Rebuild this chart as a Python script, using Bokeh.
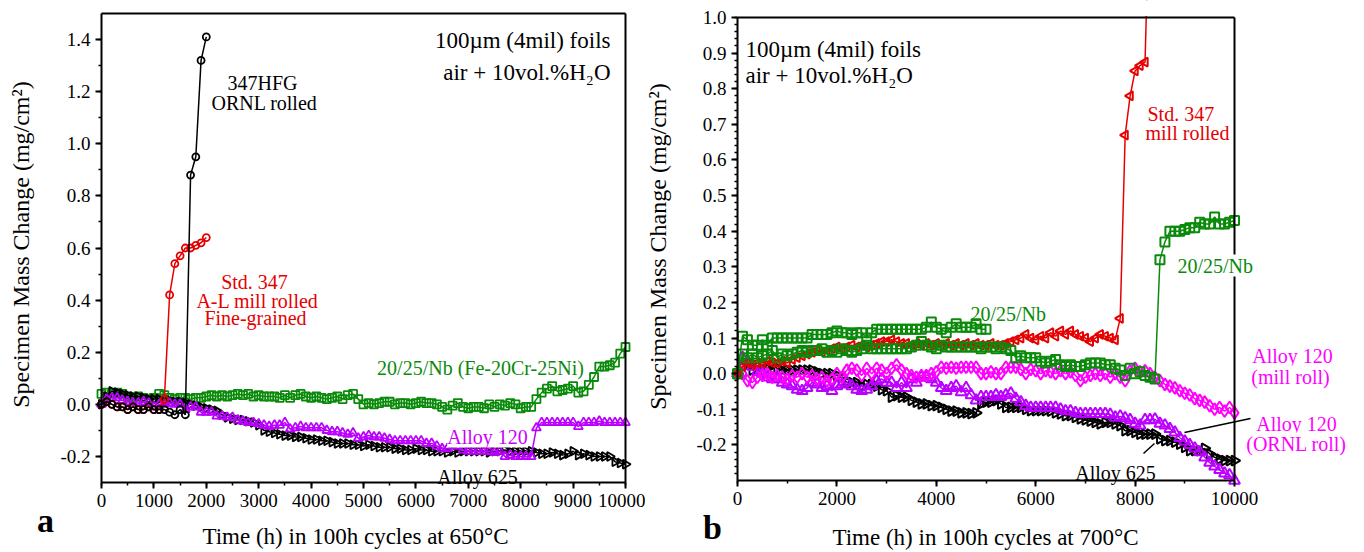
import math
from bokeh.plotting import figure
from bokeh.layouts import row
from bokeh.models import (Range1d, SingleIntervalTicker, NumeralTickFormatter, Label, Arrow,
                          LinearAxis, FixedTicker)
from bokeh.embed import file_html
from bokeh.resources import INLINE

FONT = "Liberation Serif"

# ---------------- data: panel a (650 C) ----------------
time_a = list(range(0, 10001, 100))
time_a_short = list(range(0, 2001, 100))

green_a = [0.04, 0.045, 0.04, 0.045, 0.04, 0.03, 0.025, 0.03, 0.025, 0.02,
           0.025, 0.04, 0.035, 0.025, 0.02, 0.025, 0.025, 0.02, 0.025, 0.025,
           0.03, 0.035, 0.03, 0.035, 0.03, 0.035, 0.04, 0.035, 0.04, 0.03,
           0.035, 0.03, 0.03, 0.03, 0.025, 0.035, 0.025, 0.035, 0.04, 0.03,
           0.025, 0.03, 0.025, 0.02, 0.025, 0.03, 0.02, 0.035, 0.04, 0.02,
           0.0, 0.005, 0.0, 0.005, 0.01, 0.01, 0.0, 0.005, 0.005, 0.0,
           0.005, 0.01, 0.005, 0.005, 0.0, -0.01, -0.02, -0.005, 0.005, -0.01,
           -0.015, -0.01, -0.01, -0.015, 0.0, -0.01, 0.0, -0.005, 0.005, 0.0,
           -0.015, -0.01, -0.01, 0.02, 0.045, 0.06, 0.07, 0.05, 0.055, 0.06,
           0.07, 0.045, 0.05, 0.075, 0.105, 0.145, 0.145, 0.15, 0.16, 0.195,
           0.22]
alloy120_a = [0.0, 0.02, 0.025, 0.025, 0.015, 0.01, 0.005, 0.005, 0.01, 0.005,
              -0.01, 0.0, 0.0, 0.005, 0.0, 0.0, -0.02, -0.01, -0.01, -0.03,
              -0.03, -0.03, -0.045, -0.045, -0.05, -0.05, -0.06, -0.065, -0.07, -0.07,
              -0.075, -0.08, -0.085, -0.08, -0.08, -0.07, -0.095, -0.09, -0.085, -0.09,
              -0.09, -0.09, -0.09, -0.1, -0.105, -0.105, -0.11, -0.115, -0.11, -0.13,
              -0.125, -0.12, -0.125, -0.125, -0.13, -0.135, -0.14, -0.14, -0.14, -0.14,
              -0.14, -0.14, -0.15, -0.15, -0.16, -0.17, -0.17, -0.16, -0.16, -0.175,
              -0.18, -0.18, -0.18, -0.18, -0.18, -0.185, -0.18, -0.2, -0.195, -0.2,
              -0.2, -0.2, -0.2, -0.09, -0.07, -0.07, -0.07, -0.07, -0.07, -0.07,
              -0.07, -0.085, -0.07, -0.07, -0.07, -0.065, -0.07, -0.07, -0.07, -0.07,
              -0.07]
alloy625_a = [0.0, 0.03, 0.05, 0.045, 0.04, 0.035, 0.03, 0.03, 0.025, 0.02,
              0.02, 0.02, 0.015, 0.015, 0.01, 0.01, 0.005, 0.0, -0.005, -0.01,
              -0.015, -0.02, -0.025, -0.04, -0.05, -0.055, -0.06, -0.06, -0.065, -0.07,
              -0.08, -0.1, -0.105, -0.11, -0.115, -0.12, -0.12, -0.125, -0.125, -0.13,
              -0.135, -0.135, -0.14, -0.14, -0.145, -0.15, -0.15, -0.15, -0.155, -0.155,
              -0.16, -0.155, -0.16, -0.165, -0.165, -0.165, -0.17, -0.17, -0.175, -0.175,
              -0.17, -0.175, -0.175, -0.18, -0.18, -0.18, -0.185, -0.18, -0.185, -0.18,
              -0.18, -0.18, -0.18, -0.18, -0.185, -0.18, -0.18, -0.175, -0.18, -0.18,
              -0.18, -0.18, -0.18, -0.185, -0.19, -0.19, -0.185, -0.19, -0.195, -0.19,
              -0.18, -0.195, -0.19, -0.195, -0.2, -0.2, -0.2, -0.2, -0.22, -0.225,
              -0.23]
std347_a = [0.0, 0.01, 0.0, -0.01, -0.01, -0.02, -0.01, -0.02, -0.02, -0.01,
            -0.02, -0.02, 0.02, 0.42, 0.54, 0.57, 0.6, 0.6, 0.61, 0.62, 0.64]
hfg347_a = [0.0, 0.01, 0.0, -0.01, -0.01, -0.02, -0.01, -0.02, -0.02, -0.01,
            -0.02, -0.02, -0.02, -0.03, -0.04, -0.02, -0.04, 0.88, 0.95, 1.32, 1.41]

# ---------------- data: panel b (700 C) ----------------
time_b = list(range(0, 10001, 100))
time_b_red = list(range(0, 8301, 100))
time_b_up = list(range(0, 5001, 100))

std347_b = [0.0, 0.02, 0.03, 0.025, 0.03, 0.03, 0.035, 0.03, 0.03, 0.035,
            0.03, 0.04, 0.045, 0.05, 0.055, 0.06, 0.065, 0.06, 0.065, 0.07,
            0.075, 0.07, 0.075, 0.08, 0.075, 0.08, 0.075, 0.08, 0.085, 0.09,
            0.09, 0.095, 0.09, 0.085, 0.085, 0.08, 0.085, 0.08, 0.085, 0.08,
            0.085, 0.08, 0.085, 0.08, 0.085, 0.08, 0.085, 0.08, 0.085, 0.08,
            0.08, 0.085, 0.08, 0.08, 0.085, 0.09, 0.095, 0.1, 0.11, 0.1,
            0.095, 0.105, 0.1, 0.115, 0.105, 0.12, 0.11, 0.12, 0.11, 0.105,
            0.1, 0.09, 0.1, 0.11, 0.105, 0.1, 0.095, 0.155, 0.67, 0.78,
            0.85, 0.865, 0.875, 1.4]
nb_lower_b = [0.0, 0.055, 0.045, 0.055, 0.045, 0.05, 0.055, 0.065, 0.045, 0.055,
              0.05, 0.055, 0.06, 0.065, 0.06, 0.065, 0.065, 0.07, 0.06, 0.065,
              0.06, 0.07, 0.065, 0.06, 0.065, 0.07, 0.08, 0.07, 0.07, 0.07,
              0.07, 0.07, 0.07, 0.07, 0.07, 0.075, 0.08, 0.09, 0.08, 0.075,
              0.07, 0.08, 0.075, 0.075, 0.075, 0.075, 0.075, 0.075, 0.075, 0.07,
              0.075, 0.075, 0.07, 0.075, 0.07, 0.065, 0.045, 0.05, 0.045, 0.045,
              0.045, 0.035, 0.03, 0.035, 0.04, 0.025, 0.02, 0.025, 0.02, 0.02,
              0.025, 0.03, 0.03, 0.03, 0.025, 0.025, 0.015, 0.01, -0.005, 0.015,
              0.0, 0.005, -0.005, -0.01, -0.015, 0.32, 0.37, 0.40, 0.40, 0.40,
              0.405, 0.41, 0.41, 0.425, 0.42, 0.42, 0.44, 0.42, 0.42, 0.425,
              0.43]
nb_upper_b = [0.0, 0.105, 0.095, 0.08, 0.08, 0.095, 0.08, 0.1, 0.1, 0.1,
              0.1, 0.1, 0.1, 0.1, 0.1, 0.11, 0.11, 0.11, 0.11, 0.115,
              0.12, 0.115, 0.115, 0.11, 0.115, 0.115, 0.1, 0.115, 0.125, 0.125,
              0.125, 0.125, 0.125, 0.125, 0.125, 0.125, 0.125, 0.125, 0.13, 0.145,
              0.13, 0.125, 0.115, 0.13, 0.14, 0.13, 0.13, 0.13, 0.14, 0.125,
              0.125]
alloy120_mill_b = [0.0, 0.0, -0.02, -0.025, -0.01, -0.005, 0.0, -0.01, -0.005, -0.01,
                   -0.015, -0.005, -0.01, 0.0, -0.01, -0.005, -0.015, -0.01, -0.02, -0.015,
                   0.0, -0.01, 0.01, 0.015, 0.01, -0.005, 0.015, 0.0, 0.015, 0.01,
                   0.0, 0.015, 0.025, 0.01, 0.0, -0.005, -0.01, -0.005, -0.005, 0.0,
                   0.005, 0.018, 0.015, 0.018, 0.015, 0.018, 0.018, 0.018, 0.018, 0.0,
                   0.0, 0.005, 0.0, 0.0, 0.018, 0.018, 0.018, 0.012, 0.0, 0.012,
                   0.008, 0.0, 0.008, 0.005, 0.0, 0.008, 0.0, 0.005, -0.005, -0.02,
                   -0.01, -0.005, 0.0, -0.005, 0.0, -0.01, 0.0, -0.01, -0.02, 0.008,
                   0.015, 0.005, 0.008, 0.0, -0.01, -0.02, -0.03, -0.035, -0.04, -0.048,
                   -0.055, -0.06, -0.07, -0.075, -0.08, -0.09, -0.1, -0.095, -0.105, -0.095,
                   -0.11]
alloy120_ornl_b = [0.0, 0.045, 0.035, 0.02, 0.005, 0.0, -0.01, -0.015, -0.015, -0.025,
                   -0.03, -0.035, -0.045, -0.048, -0.04, -0.025, -0.03, -0.04, -0.035, -0.048,
                   -0.035, -0.03, -0.025, -0.035, -0.045, -0.048, -0.045, -0.035, -0.02, -0.015,
                   -0.025, -0.025, -0.04, -0.025, -0.04, -0.015, -0.025, -0.01, -0.01, -0.015,
                   -0.025, -0.04, -0.048, -0.04, -0.035, -0.052, -0.04, -0.06, -0.075, -0.065,
                   -0.065, -0.065, -0.06, -0.065, -0.06, -0.055, -0.07, -0.08, -0.09, -0.095,
                   -0.095, -0.095, -0.095, -0.095, -0.095, -0.1, -0.105, -0.105, -0.11, -0.113,
                   -0.113, -0.113, -0.113, -0.113, -0.113, -0.115, -0.123, -0.12, -0.125, -0.13,
                   -0.14, -0.145, -0.13, -0.13, -0.128, -0.14, -0.145, -0.155, -0.165, -0.18,
                   -0.19, -0.2, -0.21, -0.22, -0.235, -0.25, -0.26, -0.27, -0.28, -0.285,
                   -0.30]
alloy625_b = [0.0, 0.02, 0.025, 0.01, 0.01, 0.025, 0.015, 0.025, 0.015, 0.01,
              0.01, 0.01, 0.01, 0.01, 0.01, 0.01, 0.005, 0.0, 0.0, 0.0,
              -0.005, -0.01, -0.024, -0.025, -0.025, -0.035, -0.03, -0.03, -0.035, -0.045,
              -0.048, -0.066, -0.062, -0.066, -0.066, -0.075, -0.08, -0.085, -0.085, -0.09,
              -0.09, -0.095, -0.1, -0.105, -0.105, -0.11, -0.11, -0.112, -0.11, -0.085,
              -0.08, -0.08, -0.076, -0.085, -0.095, -0.095, -0.095, -0.095, -0.1, -0.104,
              -0.104, -0.104, -0.104, -0.105, -0.11, -0.113, -0.118, -0.118, -0.123, -0.127,
              -0.13, -0.133, -0.137, -0.141, -0.137, -0.137, -0.141, -0.146, -0.16, -0.16,
              -0.165, -0.17, -0.17, -0.17, -0.17, -0.183, -0.188, -0.188, -0.192, -0.198,
              -0.207, -0.216, -0.216, -0.216, -0.21, -0.225, -0.235, -0.24, -0.244, -0.244,
              -0.244]

RED = "#e60000"
GREEN = "#0a8a0a"
PURPLE = "#bb00ff"
PURPLE_TXT = "#cc00ff"
MAGENTA = "#ff00ff"
BLACK = "#000000"

Y_TITLE = "Specimen Mass Change (mg/cm²)"


class Panel:
    """Figure whose frame fills its whole canvas; the visible axes sit at fixed
    data locations so that text can be placed all around the data area."""

    def __init__(self, width, left_px, right_px, top_px, bottom_px, x1, y0, y1,
                 xint, yint, yminor):
        # left_px/right_px: canvas x of data 0 and x1; top_px/bottom_px: canvas y of y1 and y0
        sx = (right_px - left_px) / x1
        sy = (bottom_px - top_px) / (y1 - y0)
        self.sx, self.sy, self.left_px, self.top_px, self.y1 = sx, sy, left_px, top_px, y1
        self.x1 = x1
        self.y_canvas_top = y1 + top_px / sy
        xr = Range1d(-left_px / sx, x1 + (width - right_px) / sx)
        yr = Range1d(y1 - (552 - top_px) / sy, self.y_canvas_top)
        p = figure(width=width, height=552, x_range=xr, y_range=yr,
                   x_axis_location=None, y_axis_location=None,
                   output_backend="svg", toolbar_location=None,
                   min_border_left=0, min_border_right=0, min_border_top=0,
                   min_border_bottom=0)
        p.outline_line_color = None
        p.background_fill_color = "white"
        p.border_fill_color = "white"
        p.grid.visible = False
        self.p = p

        xaxis = LinearAxis(fixed_location=y0, bounds=(0, x1),
                           ticker=SingleIntervalTicker(interval=xint, num_minor_ticks=2))
        yaxis = LinearAxis(fixed_location=0, bounds=(y0, y1),
                           ticker=SingleIntervalTicker(interval=yint, num_minor_ticks=yminor),
                           formatter=NumeralTickFormatter(format="0.0"))
        for ax in (xaxis, yaxis):
            ax.axis_line_width = 2
            ax.major_tick_line_width = 2
            ax.minor_tick_line_width = 1.5
            ax.major_tick_out = 6
            ax.major_tick_in = 0
            ax.minor_tick_out = 3
            ax.minor_tick_in = 0
            ax.major_label_text_font = FONT
            ax.major_label_text_font_size = "19px"
            ax.major_label_text_color = "black"
            ax.major_label_standoff = 5
        self.axes = [xaxis, yaxis,
                     LinearAxis(fixed_location=y1, bounds=(0, x1), ticker=FixedTicker(ticks=[]),
                                axis_line_width=2),
                     LinearAxis(fixed_location=x1, bounds=(y0, y1), ticker=FixedTicker(ticks=[]),
                                axis_line_width=2)]

    def finish(self):
        # white strip above the data area: acts as the clipping edge of the plot box,
        # so a curve leaving the top of the scale is cut there (limits come from the ranges)
        self.p.quad(left=[0], right=[self.x1], bottom=[self.y1 + 1.5 / self.sy],
                    top=[self.y_canvas_top + 1.0], fill_color="white", fill_alpha=1.0,
                    line_color=None)
        xaxis, yaxis, top, right = self.axes
        self.p.add_layout(xaxis, "below")
        self.p.add_layout(yaxis, "left")
        self.p.add_layout(top, "above")
        self.p.add_layout(right, "right")

    def dx(self, px):
        return (px - self.left_px) / self.sx

    def dy(self, py):
        return self.y1 - (py - self.top_px) / self.sy

    def series(self, x, y, marker, color, size, angle=0.0, lw=2.0):
        self.p.line(x, y, line_color=color, line_width=1.5)
        self.p.scatter(x, y, marker=marker, size=size, angle=angle, line_color=color,
                       fill_color=None, line_width=lw)

    def text(self, px, py, text, color="black", size="20px", align="center",
             baseline="alphabetic", style="normal", bg=None, angle=0.0):
        lab = Label(x=self.dx(px), y=self.dy(py), text=text, text_font=FONT,
                    text_font_size=size, text_color=color, text_align=align,
                    text_baseline=baseline, text_font_style=style, angle=angle)
        if bg:
            lab.background_fill_color = bg
        self.p.add_layout(lab)

    def leader(self, px0, py0, px1, py1):
        self.p.add_layout(Arrow(end=None, x_start=self.dx(px0), y_start=self.dy(py0),
                                x_end=self.dx(px1), y_end=self.dy(py1),
                                line_color="black", line_width=1.5))


# ---------------- panel a ----------------
A = Panel(645, 101, 625, 13, 482, 10000, -0.3, 1.5, 1000, 0.2, 2)
A.series(time_a, green_a, "square", GREEN, 8, lw=1.8)
A.series(time_a, alloy625_a, "triangle", BLACK, 9, -math.pi / 2, lw=1.8)
A.series(time_a, alloy120_a, "triangle", PURPLE, 9, lw=1.8)
A.series(time_a_short, std347_a, "circle", RED, 7, lw=1.8)
A.series(time_a_short, hfg347_a, "circle", BLACK, 7, lw=1.8)

A.text(610, 40, "100µm (4mil) foils", size="23px", align="right")
A.text(610, 72, "air + 10vol.%H₂O", size="23px", align="right")
A.text(262, 82, "347HFG")
A.text(264, 102, "ORNL rolled")
A.text(254, 281, "Std. 347", RED)
A.text(257, 300, "A-L mill rolled", RED)
A.text(255, 317, "Fine-grained", RED)
A.text(480, 367, "20/25/Nb (Fe-20Cr-25Ni)", GREEN)
A.text(487, 436, "Alloy 120", PURPLE_TXT, bg="white")
A.text(477, 476, "Alloy 625")
A.text(355, 536, "Time (h) in 100h cycles at 650°C", size="23px")
A.text(20, 244, Y_TITLE, size="24px", baseline="middle", angle=math.pi / 2)
A.text(45, 520, "a", size="34px", style="bold")
A.finish()

# ---------------- panel b ----------------
B = Panel(719, 92, 589, 17, 480, 10000, -0.3, 1.0, 2000, 0.1, 5)
B.series(time_b, alloy625_b, "triangle", BLACK, 10, -math.pi / 2)
B.series(time_b, alloy120_ornl_b, "triangle", PURPLE, 11)
B.series(time_b, alloy120_mill_b, "diamond", MAGENTA, 12)
B.series(time_b_red, std347_b, "triangle", RED, 9, math.pi / 2)
B.series(time_b, nb_lower_b, "square", GREEN, 9)
B.series(time_b_up, nb_upper_b, "square", GREEN, 9)

# canvas x of panel b = page x - 645
B.text(100, 49, "100µm (4mil) foils", size="23px", align="left")
B.text(100, 75, "air + 10vol.%H₂O", size="23px", align="left")
B.text(502, 113, "Std. 347", RED, align="left")
B.text(500, 132, "mill rolled", RED, align="left")
B.text(532, 265, "20/25/Nb", GREEN, align="left", bg="white")
B.text(325, 313, "20/25/Nb", GREEN, align="left")
B.text(647, 355, "Alloy 120", MAGENTA, bg="white")
B.text(645, 376, "(mill roll)", MAGENTA, bg="white")
B.text(651, 423, "Alloy 120", MAGENTA, bg="white")
B.text(651, 443, "(ORNL roll)", MAGENTA, bg="white")
B.text(470, 472, "Alloy 625")
B.leader(539, 432, 605, 418)
B.leader(498, 453, 509, 443)
B.text(340, 537, "Time (h) in 100h cycles at 700°C", size="23px")
B.text(12, 246, Y_TITLE, size="24px", baseline="middle", angle=math.pi / 2)
B.text(67, 527, "b", size="34px", style="bold")
B.finish()

layout = row(A.p, B.p, spacing=0)
open("out.html", "w").write(file_html(layout, INLINE))
